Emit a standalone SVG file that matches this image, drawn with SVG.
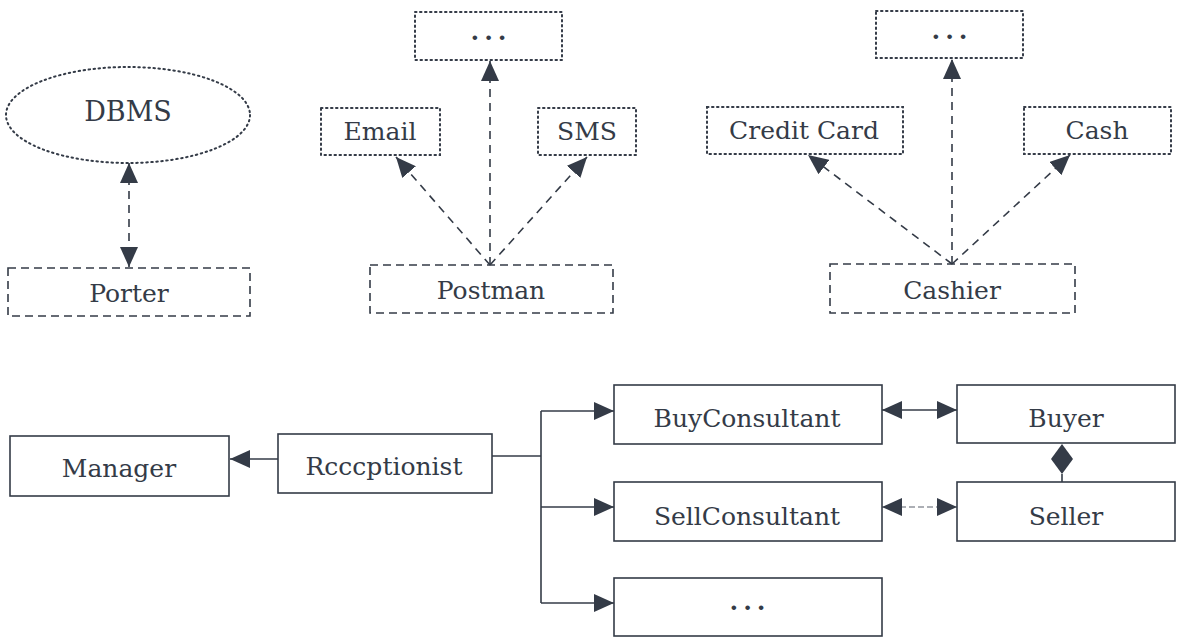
<svg xmlns="http://www.w3.org/2000/svg" width="1180" height="637" viewBox="0 0 1180 637">
<style>
  text { font-family: "DejaVu Serif", "Liberation Serif", serif; font-size: 25px; fill: #343b47; text-anchor: middle; }
  .dot { fill: none; stroke: #343b47; stroke-width: 2; stroke-dasharray: 1.5 3.5; stroke-linecap: round; }
  .dash { fill: none; stroke: #343b47; stroke-width: 1.6; stroke-dasharray: 8 5; }
  .solid { fill: #ffffff; stroke: #343b47; stroke-width: 1.6; }
  .conn { fill: none; stroke: #343b47; stroke-width: 1.6; }
  .dconn { fill: none; stroke: #343b47; stroke-width: 1.6; stroke-dasharray: 8 6; }
  .fconn { fill: none; stroke: #5a616c; stroke-width: 1.2; stroke-dasharray: 6 3; }
  .ell { letter-spacing: 5px; font-weight: bold; }
  .big { font-size: 27px; }
</style>
<defs>
  <marker id="ah" viewBox="0 0 20 18" refX="20" refY="9" markerWidth="20" markerHeight="18" orient="auto-start-reverse" markerUnits="userSpaceOnUse">
    <path d="M0,0 L20,9 L0,18 z" fill="#343b47" stroke="none"/>
  </marker>
</defs>
<rect width="1180" height="637" fill="#ffffff"/>

<g id="connectors">
  <line class="dconn" x1="129" y1="163" x2="129" y2="267" marker-start="url(#ah)" marker-end="url(#ah)"/>
  <line class="dconn" x1="490" y1="265" x2="490" y2="61" marker-end="url(#ah)"/>
  <line class="dconn" x1="490" y1="265" x2="396" y2="157" marker-end="url(#ah)"/>
  <line class="dconn" x1="490" y1="265" x2="587" y2="157" marker-end="url(#ah)"/>
  <line class="dconn" x1="952" y1="264" x2="952" y2="59" marker-end="url(#ah)"/>
  <line class="dconn" x1="952" y1="264" x2="808" y2="155" marker-end="url(#ah)"/>
  <line class="dconn" x1="952" y1="264" x2="1070" y2="155" marker-end="url(#ah)"/>
  <line class="conn" x1="278" y1="459" x2="230" y2="459" marker-end="url(#ah)"/>
  <polyline class="conn" points="492,456 541,456"/>
  <line class="conn" x1="541" y1="411" x2="541" y2="603"/>
  <line class="conn" x1="541" y1="411" x2="614" y2="411" marker-end="url(#ah)"/>
  <line class="conn" x1="541" y1="507" x2="614" y2="507" marker-end="url(#ah)"/>
  <line class="conn" x1="541" y1="603" x2="614" y2="603" marker-end="url(#ah)"/>
  <line class="conn" x1="882" y1="410" x2="957" y2="410" marker-start="url(#ah)" marker-end="url(#ah)"/>
  <line class="fconn" x1="882" y1="507" x2="957" y2="507" marker-start="url(#ah)" marker-end="url(#ah)"/>
  <path d="M1062,444 L1073,459 L1062,474 L1051,459 z" fill="#343b47"/>
  <line class="conn" x1="1062" y1="474" x2="1062" y2="482"/>
</g>

<g id="dbms"><ellipse class="dot" cx="128" cy="115" rx="122" ry="48"/><text class="big" x="128" y="121">DBMS</text></g>
<g id="porter"><rect class="dash" x="8" y="268" width="242" height="48"/><text x="129" y="302">Porter</text></g>

<g id="more-postman"><rect class="dot" x="415" y="12" width="147" height="48"/><text class="ell" x="491" y="40">...</text></g>
<g id="email"><rect class="dot" x="321" y="108" width="119" height="47"/><text x="380" y="140">Email</text></g>
<g id="sms"><rect class="dot" x="538" y="108" width="98" height="47"/><text x="587" y="140">SMS</text></g>
<g id="postman"><rect class="dash" x="370" y="265" width="243" height="48"/><text x="491" y="299">Postman</text></g>

<g id="more-cashier"><rect class="dot" x="876" y="11" width="147" height="47"/><text class="ell" x="952" y="39">...</text></g>
<g id="creditcard"><rect class="dot" x="707" y="107" width="196" height="47"/><text x="804" y="139">Credit Card</text></g>
<g id="cash"><rect class="dot" x="1024" y="107" width="147" height="47"/><text x="1097" y="139">Cash</text></g>
<g id="cashier"><rect class="dash" x="830" y="264" width="245" height="49"/><text x="952" y="299">Cashier</text></g>

<g id="manager"><rect class="solid" x="10" y="436" width="219" height="60"/><text x="119" y="477">Manager</text></g>
<g id="receptionist"><rect class="solid" x="278" y="434" width="214" height="59"/><text x="384" y="475">Rcccptionist</text></g>
<g id="buyconsultant"><rect class="solid" x="614" y="385" width="268" height="59"/><text x="747" y="427">BuyConsultant</text></g>
<g id="buyer"><rect class="solid" x="957" y="385" width="218" height="58"/><text x="1066" y="427">Buyer</text></g>
<g id="sellconsultant"><rect class="solid" x="614" y="482" width="268" height="59"/><text x="747" y="525">SellConsultant</text></g>
<g id="seller"><rect class="solid" x="957" y="482" width="218" height="59"/><text x="1066" y="525">Seller</text></g>
<g id="more-consultant"><rect class="solid" x="614" y="578" width="268" height="58"/><text class="ell" x="750" y="610">...</text></g>
</svg>
